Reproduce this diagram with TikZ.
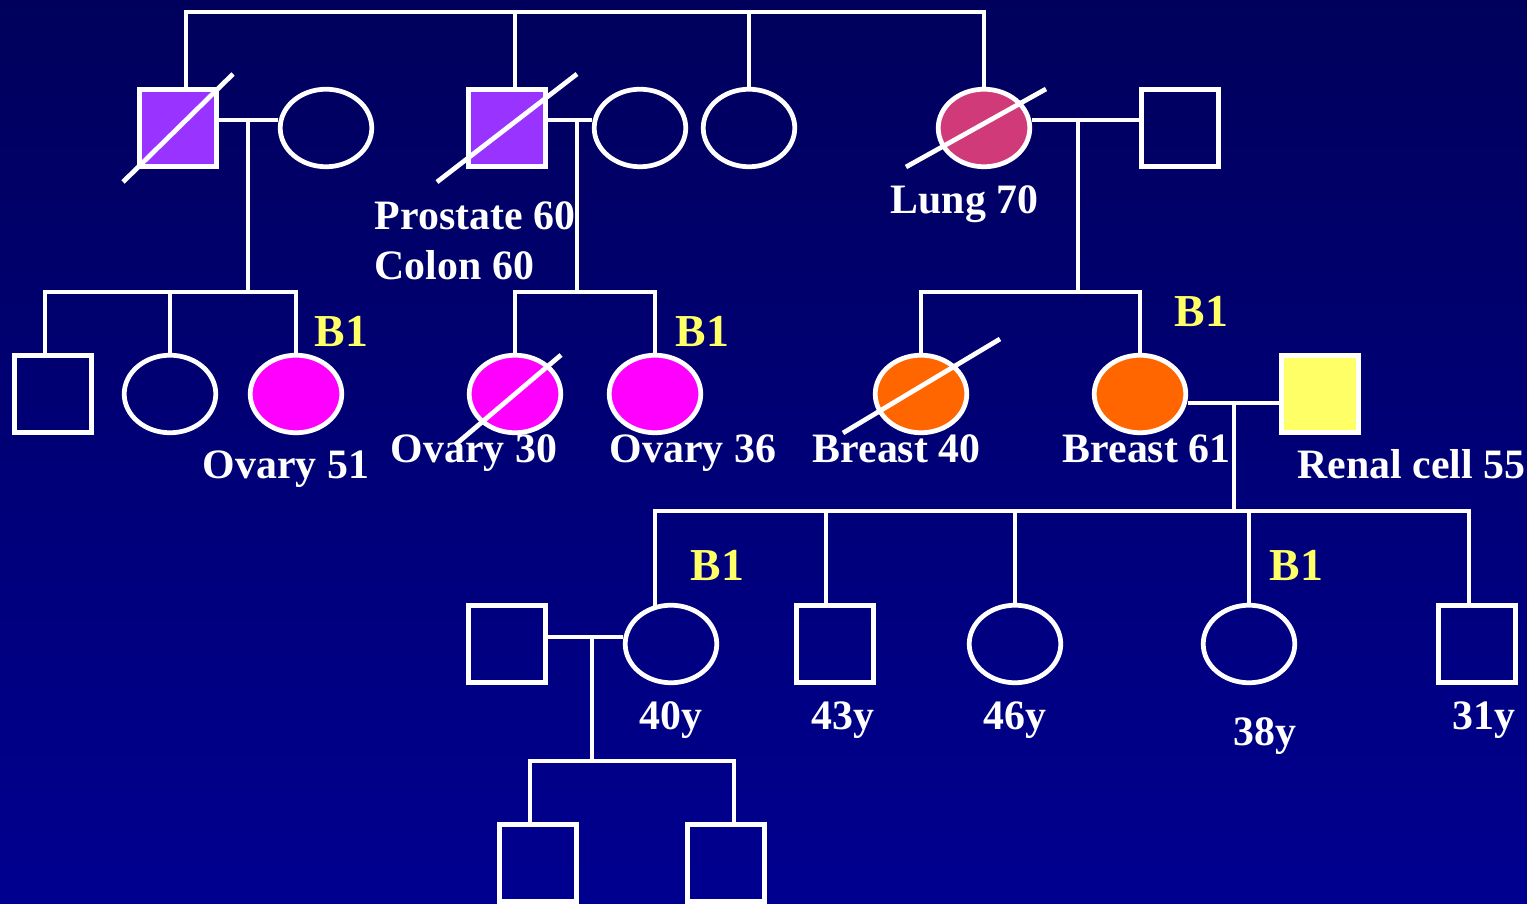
\documentclass[tikz,border=0pt]{standalone}
\usepackage{fontspec}
\setmainfont{Liberation Serif}
\usetikzlibrary{shapes.geometric,calc}
\definecolor{bgtop}{RGB}{0,0,92}
\definecolor{bgbot}{RGB}{0,0,144}
\definecolor{affpurple}{RGB}{153,51,255}
\definecolor{afflung}{RGB}{208,58,120}
\definecolor{affovary}{RGB}{255,0,255}
\definecolor{affbreast}{RGB}{255,102,0}
\definecolor{affrenal}{RGB}{255,255,102}
\definecolor{btag}{RGB}{255,255,102}
\tikzset{
  lw/.style={line width=1.35pt},
  conn/.style={draw=white, lw},
  male/.style={rectangle, draw=white, lw, minimum size=0.765cm, inner sep=0pt},
  female/.style={ellipse, draw=white, lw, minimum width=0.915cm, minimum height=0.775cm, inner sep=0pt},
  slash/.style={draw=white, lw},
  lbl/.style={anchor=base west, inner sep=0pt, text=white, font=\fontsize{11.9}{14}\selectfont\bfseries},
  tag/.style={anchor=base west, inner sep=0pt, text=btag, font=\fontsize{13}{15}\selectfont\bfseries},
}
\begin{document}
\begin{tikzpicture}[x=0.01cm, y=-0.01cm]
\shade[top color=bgtop, bottom color=bgbot] (0,0) rectangle (1527,904);
\useasboundingbox (0,0) rectangle (1527,904);

% Generation I
\node[male, fill=affpurple] (I1) at (178,128) {};
\node[female] (I2) at (326,128) {};
\node[male, fill=affpurple] (I3) at (507,128) {};
\node[female] (I4) at (640,128) {};
\node[female] (I5) at (749,128) {};
\node[female, fill=afflung] (I6) at (984,128) {};
\node[male] (I7) at (1180,128) {};

% Generation II
\node[male] (II1) at (53,394) {};
\node[female] (II2) at (170,394) {};
\node[female, fill=affovary] (II3) at (296,394) {};
\node[female, fill=affovary] (II4) at (515,394) {};
\node[female, fill=affovary] (II5) at (655,394) {};
\node[female, fill=affbreast] (II6) at (921,394) {};
\node[female, fill=affbreast] (II7) at (1140,394) {};
\node[male, fill=affrenal] (II8) at (1320,394) {};

% Generation III
\node[male] (III0) at (507,644) {};
\node[female] (III1) at (671,644) {};
\node[male] (III2) at (835,644) {};
\node[female] (III3) at (1015,644) {};
\node[female] (III4) at (1249,644) {};
\node[male] (III5) at (1477,644) {};

% Generation IV
\node[male] (IV1) at (538,863) {};
\node[male] (IV2) at (726,863) {};

% coordinates of sibship lines and mating lines
\coordinate (t1) at (186,12);
\coordinate (t2) at (515,12);
\coordinate (t3) at (749,12);
\coordinate (t4) at (984,12);
\coordinate (m1) at (248,120);
\coordinate (m2) at (577,120);
\coordinate (m3) at (1078,120);
\coordinate (s1a) at (45,292);
\coordinate (s1b) at (170,292);
\coordinate (s1c) at (296,292);
\coordinate (s2a) at (515,292);
\coordinate (s2b) at (655,292);
\coordinate (s3a) at (921,292);
\coordinate (s3b) at (1140,292);
\coordinate (m4) at (1234,403);
\coordinate (s4a) at (655,511);
\coordinate (s4b) at (826,511);
\coordinate (s4c) at (1015,511);
\coordinate (s4d) at (1249,511);
\coordinate (s4e) at (1469,511);
\coordinate (m5) at (592,637);
\coordinate (s5a) at (530,761);
\coordinate (s5b) at (734,761);

% top sibship
\draw[conn] (t1 |- I1.north) -- (t1) -- (t4) -- (t4 |- I6.north);
\draw[conn] (t2) -- (t2 |- I3.north);
\draw[conn] (t3) -- (t3 |- I5.north);

% matings gen I
\draw[conn] (m1 -| I1.east) -- (m1 -| I2.west);
\draw[conn] (m2 -| I3.east) -- (m2 -| I4.west);
\draw[conn] (m3 -| I6.east) -- (m3 -| I7.west);

% sibship 1
\draw[conn] (m1) -- (m1 |- s1a);
\draw[conn] (s1a |- II1.north) -- (s1a) -- (s1c) -- (s1c |- II3.north);
\draw[conn] (s1b) -- (s1b |- II2.north);
% sibship 2
\draw[conn] (m2) -- (m2 |- s2a);
\draw[conn] (s2a |- II4.north) -- (s2a) -- (s2b) -- (s2b |- II5.north);
% sibship 3
\draw[conn] (m3) -- (m3 |- s3a);
\draw[conn] (s3a |- II6.north) -- (s3a) -- (s3b) -- (s3b |- II7.north);

% mating gen II
\draw[conn] (m4 -| II7.east) -- (m4 -| II8.west);
\draw[conn] (m4) -- (m4 |- s4a);
\draw[conn] (s4a |- III1.114) -- (s4a) -- (s4e) -- (s4e |- III5.north);
\draw[conn] (s4b) -- (s4b |- III2.north);
\draw[conn] (s4c) -- (s4c |- III3.north);
\draw[conn] (s4d) -- (s4d |- III4.north);

% mating gen III
\draw[conn] (m5 -| III0.east) -- (m5 -| III1.west);
\draw[conn] (m5) -- (m5 |- s5a);
\draw[conn] (s5a |- IV1.north) -- (s5a) -- (s5b) -- (s5b |- IV2.north);

% deceased slashes
\draw[slash] ($(I1)+(-55,54)$) -- ($(I1)+(55,-54)$);
\draw[slash] ($(I3)+(-70,54)$) -- ($(I3)+(70,-54)$);
\draw[slash] ($(I6)+(-78,39)$) -- ($(I6)+(62,-39)$);
\draw[slash] ($(II4)+(-60,51)$) -- ($(II4)+(46,-39)$);
\draw[slash] ($(II6)+(-78,39)$) -- ($(II6)+(79,-55)$);

% labels
\node[lbl] (lp) at (374,230) {Prostate 60};
\node[lbl] (lc) at (374,280) {Colon 60};
\node[lbl] (ll) at (890,214) {Lung 70};
\node[lbl] (lo51) at (202,479) {Ovary 51};
\node[lbl] (lo30) at (390,463) {Ovary 30};
\node[lbl] (lo36) at (609,463) {Ovary 36};
\node[lbl] (lb40) at (812,463) {Breast 40};
\node[lbl] (lb61) at (1062,463) {Breast 61};
\node[lbl] (lr55) at (1297,479) {Renal cell 55};
\node[lbl] (a40) at (639,730) {40y};
\node[lbl] (a43) at (811,730) {43y};
\node[lbl] (a46) at (983,730) {46y};
\node[lbl] (a38) at (1233,746) {38y};
\node[lbl] (a31) at (1452,730) {31y};

\node[tag] (b1) at (314,347) {B1};
\node[tag] (b2) at (675,347) {B1};
\node[tag] (b3) at (1174,327) {B1};
\node[tag] (b4) at (690,581) {B1};
\node[tag] (b5) at (1269,581) {B1};
\end{tikzpicture}
\end{document}
